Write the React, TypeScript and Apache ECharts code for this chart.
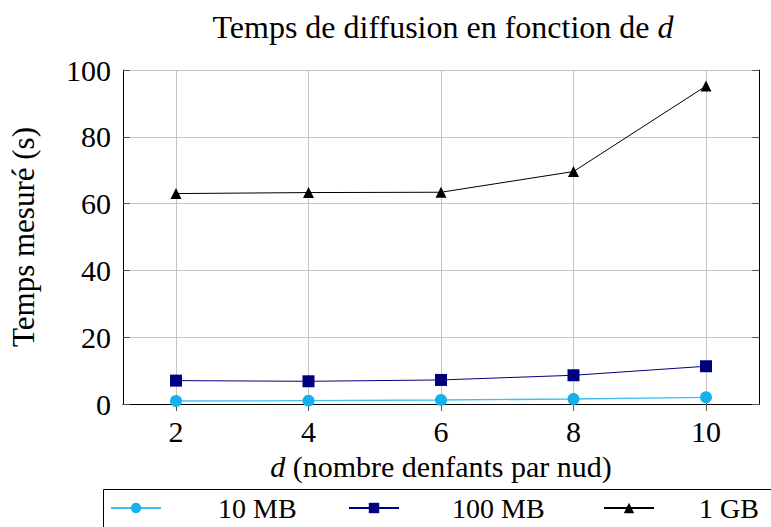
import React, { useEffect, useRef } from 'react';
import * as echarts from 'echarts';

const dValues = [2, 4, 6, 8, 10];
const series10MB = [0.9, 1.0, 1.2, 1.5, 2.0];
const series100MB = [7.0, 6.8, 7.2, 8.6, 11.3];
const series1GB = [63.0, 63.3, 63.4, 69.6, 95.2];
const seriesNames = ['10 MB', '100 MB', '1 GB'];
const xTickValues = [2, 4, 6, 8, 10];
const yMin = 0;
const yMax = 100;
const yInterval = 20;
const xMin = 1.2;
const xMax = 10.8;
const xInterval = 0.4;

const FONT = 'Liberation Serif';

export default function App() {
  const ref = useRef<HTMLDivElement>(null);
  useEffect(() => {
    if (!ref.current) return;
    const chart = echarts.init(ref.current, undefined, { renderer: 'svg' });
    const pair = (vals: number[]) => dValues.map((d, i) => [d, vals[i]]);
    const tickStyle = { show: true, inside: true, length: 7, lineStyle: { color: '#555', width: 1 } };
    const axisLine = { show: true, lineStyle: { color: '#000', width: 1 } };
    const legendBase = {
      top: 494,
      padding: 0,
      itemWidth: 50,
      itemHeight: 13,
      selectedMode: false,
    };
    const option: any = {
      animation: false,
      backgroundColor: '#fff',
      textStyle: { fontFamily: FONT, color: '#000' },
      grid: { left: 123, right: 12, top: 70, bottom: 123, containLabel: false },
      graphic: [
        {
          type: 'text',
          x: 443,
          y: 27,
          style: {
            text: '{n|Temps de diffusion en fonction de }{i|d}',
            align: 'center',
            verticalAlign: 'middle',
            rich: {
              n: { fontFamily: FONT, fontSize: 32, fill: '#000' },
              i: { fontFamily: FONT, fontSize: 32, fontStyle: 'italic', fill: '#000' },
            },
          },
        },
        {
          type: 'rect',
          shape: { x: 103.5, y: 489.5, width: 720, height: 60 },
          style: { fill: 'none', stroke: '#000', lineWidth: 1 },
          z: 0,
        },
      ],
      legend: [
        {
          ...legendBase,
          left: 110,
          data: [seriesNames[0]],
          textStyle: { fontFamily: FONT, fontSize: 28, color: '#000', padding: [0, 0, 0, 52] },
        },
        {
          ...legendBase,
          left: 348,
          data: [seriesNames[1]],
          textStyle: { fontFamily: FONT, fontSize: 28, color: '#000', padding: [0, 0, 0, 48] },
        },
        {
          ...legendBase,
          left: 603,
          data: [seriesNames[2]],
          textStyle: { fontFamily: FONT, fontSize: 28, color: '#000', padding: [0, 0, 0, 40] },
        },
      ],
      xAxis: [
        {
          type: 'value',
          min: xMin,
          max: xMax,
          interval: xInterval,
          position: 'bottom',
          axisLine,
          axisTick: { ...tickStyle, customValues: xTickValues },
          axisLabel: {
            customValues: xTickValues,
            fontFamily: FONT,
            fontSize: 30,
            color: '#000',
            margin: 12,
          },
          splitLine: { show: true, lineStyle: { color: '#c4c4c4', width: 1 } },
          name: '{i|d} (nombre denfants par nud)',
          nameLocation: 'middle',
          nameGap: 47,
          nameTextStyle: {
            fontFamily: FONT,
            fontSize: 30,
            color: '#000',
            rich: {
              i: { fontFamily: FONT, fontSize: 30, fontStyle: 'italic', color: '#000' },
            },
          },
        },
        {
          type: 'value',
          min: xMin,
          max: xMax,
          interval: xInterval,
          position: 'top',
          axisLine,
          axisTick: { ...tickStyle, customValues: xTickValues },
          axisLabel: { show: false },
          splitLine: { show: false },
        },
      ],
      yAxis: [
        {
          type: 'value',
          min: yMin,
          max: yMax,
          interval: yInterval,
          position: 'left',
          axisLine,
          axisTick: tickStyle,
          axisLabel: { fontFamily: FONT, fontSize: 30, color: '#000', margin: 12 },
          splitLine: { show: true, lineStyle: { color: '#c4c4c4', width: 1 } },
          name: 'Temps mesuré (s)',
          nameLocation: 'middle',
          nameGap: 84,
          nameTextStyle: { fontFamily: FONT, fontSize: 31, color: '#000' },
        },
        {
          type: 'value',
          min: yMin,
          max: yMax,
          interval: yInterval,
          position: 'right',
          axisLine,
          axisTick: tickStyle,
          axisLabel: { show: false },
          splitLine: { show: false },
        },
      ],
      series: [
        {
          name: seriesNames[0],
          type: 'line',
          data: pair(series10MB),
          symbol: 'circle',
          symbolSize: 12,
          itemStyle: { color: '#14b1ec' },
          lineStyle: { color: '#3fc0f0', width: 1.3 },
          z: 3,
        },
        {
          name: seriesNames[1],
          type: 'line',
          data: pair(series100MB),
          symbol: 'rect',
          symbolSize: 12,
          itemStyle: { color: '#000080' },
          lineStyle: { color: '#000080', width: 1 },
          z: 3,
        },
        {
          name: seriesNames[2],
          type: 'line',
          data: pair(series1GB),
          symbol: 'triangle',
          symbolSize: 11,
          itemStyle: { color: '#000' },
          lineStyle: { color: '#000', width: 1 },
          z: 3,
        },
      ],
    };
    chart.setOption(option);
    return () => chart.dispose();
  }, []);
  return (
    <div
      ref={ref}
      style={{ position: 'fixed', left: 0, top: 0, width: 771, height: 527, background: '#fff' }}
    />
  );
}
